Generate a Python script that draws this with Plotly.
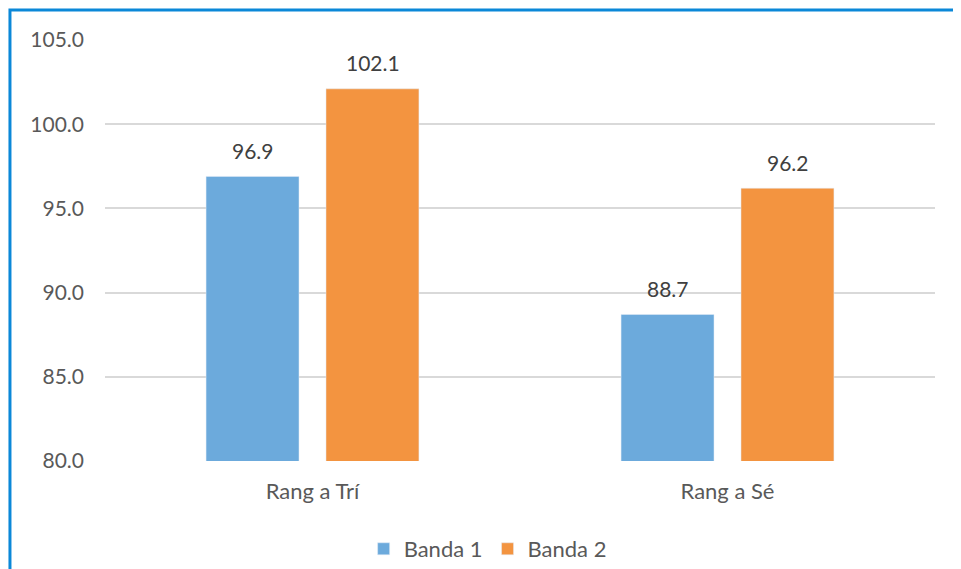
import plotly.graph_objects as go

# chart data
categories = ["Rang a Trí", "Rang a Sé"]
banda_1 = [96.9, 88.7]
banda_2 = [102.1, 96.2]
series_names = ["Banda 1", "Banda 2"]
y_ticks = [80, 85, 90, 95, 100, 105]

BLUE = "#6caadc"
ORANGE = "#f39440"
TEXT = "#595959"
FONT = "Lato, 'Open Sans', sans-serif"

fig = go.Figure()
fig.add_trace(go.Bar(x=categories, y=banda_1, name=series_names[0],
                     marker_color=BLUE, base=0))
fig.add_trace(go.Bar(x=categories, y=banda_2, name=series_names[1],
                     marker_color=ORANGE, base=0))

# value labels above the bars
annotations = []
for vals, shift in ((banda_1, -60), (banda_2, 60)):
    for cat, v in zip(categories, vals):
        annotations.append(dict(
            x=cat, y=v, text=f"{v:.1f}", showarrow=False,
            xshift=shift, yshift=26, yanchor="middle",
            font=dict(size=21, color="#404040", family=FONT),
        ))

# page body has an 8px margin, so the figure is a bit smaller than the window
fig.update_layout(
    width=953, height=561,
    margin=dict(l=97, r=26, t=32, b=108, autoexpand=False),
    paper_bgcolor="white", plot_bgcolor="white",
    barmode="group", bargap=0.422, bargroupgap=0.225,
    font=dict(family=FONT, size=21, color=TEXT),
    showlegend=True,
    legend=dict(orientation="h", x=0.461, xanchor="center",
                y=-0.209, yanchor="middle",
                font=dict(size=22, color=TEXT), itemwidth=30,
                traceorder="normal"),
    annotations=annotations,
)
fig.update_yaxes(range=[80, 105], tickvals=y_ticks, tickformat=".1f",
                 showgrid=True, gridcolor="#d9d9d9", gridwidth=2,
                 zeroline=False, showline=False, ticklabelstandoff=20,
                 tickfont=dict(size=21), automargin=False)
fig.update_xaxes(showgrid=False, showline=False, ticks="",
                 ticklabelstandoff=15, tickfont=dict(size=22),
                 automargin=False)

# blue frame around the chart (runs off the right and bottom edges)
fig.add_shape(type="rect", xref="paper", yref="paper",
              x0=-0.1145, x1=1.1, y0=-0.4, y1=1.0713,
              line=dict(color="#0b88d8", width=3), layer="below")

fig.write_html("out.html")
